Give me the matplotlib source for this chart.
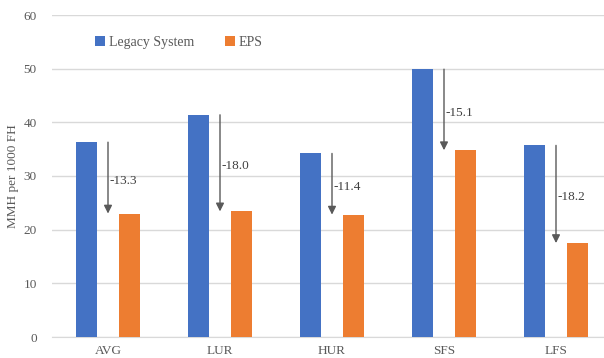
import matplotlib
matplotlib.use("Agg")
import matplotlib.pyplot as plt
import numpy as np

categories = ["AVG", "LUR", "HUR", "SFS", "LFS"]
legacy = [36.3, 41.4, 34.2, 49.9, 35.7]
eps = [23.0, 23.4, 22.8, 34.8, 17.5]
deltas = ["-13.3", "-18.0", "-11.4", "-15.1", "-18.2"]

plt.rcParams["font.family"] = ["Liberation Serif", "DejaVu Serif"]

fig = plt.figure(figsize=(6.04, 3.58), dpi=100)
ax = fig.add_axes([52 / 604, 21 / 358, 560 / 604, 322 / 358])

x = np.arange(len(categories))
w = 0.19
off = 0.195
blue = "#4472C4"
orange = "#ED7D31"
ax.bar(x - off, legacy, w, color=blue, label="Legacy System", zorder=3)
ax.bar(x + off, eps, w, color=orange, label="EPS", zorder=3)

# change arrows from the legacy value down to the EPS value
for xi, a, b, d in zip(x, legacy, eps, deltas):
    ax.annotate("", xy=(xi, b), xytext=(xi, a),
                arrowprops=dict(arrowstyle="-|>", color="#595959", lw=1.0,
                                mutation_scale=12, shrinkA=0, shrinkB=0),
                zorder=4)
    ax.text(xi + 0.015, (a + b) / 2 - 0.6, d, ha="left", va="center",
            fontsize=9.5, color="#404040", zorder=5)

ax.set_xlim(-0.5, len(categories) - 0.5)
ax.set_ylim(0, 60)
ax.set_yticks(range(0, 61, 10))
ax.set_xticks(x)
ax.set_xticklabels(categories)
ax.tick_params(axis="y", length=0, labelsize=9.5, colors="#595959", pad=11)
ax.tick_params(axis="x", length=0, labelsize=9.5, colors="#595959", pad=6)
ax.grid(axis="y", color="#D9D9D9", lw=1, zorder=0)
for s in ["top", "right", "left"]:
    ax.spines[s].set_visible(False)
ax.spines["bottom"].set_color("#D9D9D9")
ax.set_ylabel("MMH per 1000 FH", fontsize=9.5, color="#595959", labelpad=3)

ax.legend(loc="upper left", bbox_to_anchor=(0.055, 0.975), ncol=2, frameon=False,
          fontsize=10, handlelength=0.7, handleheight=0.7, handletextpad=0.3,
          columnspacing=2.2, labelcolor="#595959")

fig.savefig("out.png", dpi=100)
